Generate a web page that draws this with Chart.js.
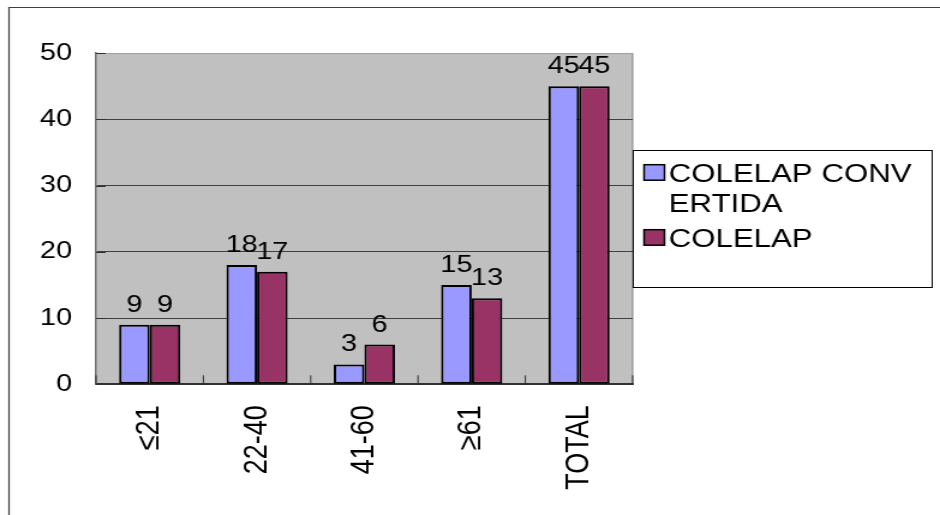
<!DOCTYPE html>
<html>
<head>
<meta charset="utf-8">
<script src="https://cdn.jsdelivr.net/npm/chart.js@4.4.1/dist/chart.umd.min.js"></script>
<style>
  html, body { margin: 0; padding: 0; background: #ffffff; overflow: hidden; }
  #c { display: block; width: 940px !important; height: 515px !important; }
</style>
</head>
<body>
<canvas id="c" width="783" height="515" style="width:940px;height:515px;display:block"></canvas>
<script>
const categories = ['≤21', '22-40', '41-60', '≥61', 'TOTAL'];
const convertida = [9, 18, 3, 15, 45];
const colelap = [9, 17, 6, 13, 45];
const seriesNames = ['COLELAP CONVERTIDA', 'COLELAP'];
const yTickValues = [0, 10, 20, 30, 40, 50];

const FONT = "'Liberation Sans', Arial, sans-serif";

const framePlugin = {
  id: 'frame',
  beforeDraw(chart) {
    const ctx = chart.ctx;
    const a = chart.chartArea;
    ctx.save();
    ctx.fillStyle = '#ffffff';
    ctx.fillRect(0, 0, chart.width, chart.height);
    ctx.strokeStyle = '#404040';
    ctx.lineWidth = 1.2;
    ctx.beginPath();
    ctx.moveTo(7.5, chart.height);
    ctx.lineTo(7.5, 7.5);
    ctx.lineTo(chart.width, 7.5);
    ctx.stroke();
    ctx.fillStyle = '#c0c0c0';
    ctx.fillRect(a.left, a.top, a.right - a.left, a.bottom - a.top);
    ctx.strokeStyle = '#808080';
    ctx.lineWidth = 1;
    ctx.beginPath();
    ctx.moveTo(a.right, a.top);
    ctx.lineTo(a.right, a.bottom);
    ctx.stroke();
    ctx.restore();
  }
};

const tickPlugin = {
  id: 'innerTicks',
  beforeDatasetsDraw(chart) {
    const ctx = chart.ctx;
    const xs = chart.scales.x, ys = chart.scales.y;
    ctx.save();
    ctx.strokeStyle = '#303030';
    ctx.lineWidth = 1;
    ctx.beginPath();
    yTickValues.forEach(v => {
      const y = Math.round(ys.getPixelForValue(v)) + 0.5;
      ctx.moveTo(xs.left, y);
      ctx.lineTo(xs.left + 8, y);
    });
    for (let i = 0; i <= categories.length; i++) {
      const x = xs.getPixelForValue(i - 0.5);
      ctx.moveTo(x, ys.bottom);
      ctx.lineTo(x, ys.bottom - 9);
    }
    ctx.stroke();
    ctx.restore();
  }
};

const labelPlugin = {
  id: 'valueLabels',
  afterDatasetsDraw(chart) {
    const ctx = chart.ctx;
    ctx.save();
    ctx.font = `24px ${FONT}`;
    ctx.fillStyle = '#000000';
    ctx.textAlign = 'center';
    ctx.textBaseline = 'alphabetic';
    chart.data.datasets.forEach((ds, di) => {
      const meta = chart.getDatasetMeta(di);
      meta.data.forEach((el, i) => {
        ctx.fillText(String(ds.data[i]), el.x, el.y - 13);
      });
    });
    ctx.restore();
  }
};

const legendPlugin = {
  id: 'boxLegend',
  afterDraw(chart) {
    const ctx = chart.ctx;
    const a = chart.chartArea;
    const box = { left: a.right + 0.5, top: 150.5, right: 776.5, bottom: 287.5 };
    ctx.save();
    ctx.fillStyle = '#ffffff';
    ctx.fillRect(box.left, box.top, box.right - box.left, box.bottom - box.top);
    ctx.strokeStyle = '#000000';
    ctx.lineWidth = 1;
    ctx.strokeRect(box.left, box.top, box.right - box.left, box.bottom - box.top);
    ctx.font = `26px ${FONT}`;
    ctx.fillStyle = '#000000';
    ctx.textAlign = 'left';
    ctx.textBaseline = 'alphabetic';
    const textX = box.left + 29.5;
    const maxW = box.right - 6 - textX;
    const swX = box.left + 9;
    let baseline = 181.7;
    chart.data.datasets.forEach((ds, di) => {
      const lines = [];
      let cur = '';
      for (const ch of ds.label) {
        const test = cur + ch;
        if (ctx.measureText(test).width > maxW && cur.length) {
          lines.push(cur);
          cur = ch === ' ' ? '' : ch;
        } else {
          cur = test;
        }
      }
      if (cur) lines.push(cur);
      ctx.fillStyle = ds.backgroundColor;
      ctx.fillRect(swX, baseline - 17, 17, 15.5);
      ctx.strokeStyle = '#000000';
      ctx.lineWidth = 1.5;
      ctx.strokeRect(swX, baseline - 17, 17, 15.5);
      ctx.fillStyle = '#000000';
      lines.forEach((ln, li) => {
        ctx.fillText(ln, textX, baseline + li * 30);
      });
      baseline += (lines.length - 1) * 30 + 35;
    });
    ctx.restore();
  }
};

new Chart(document.getElementById('c'), {
  type: 'bar',
  data: {
    labels: categories,
    datasets: [
      {
        label: seriesNames[0],
        data: convertida,
        backgroundColor: '#9999ff',
        borderColor: '#000000',
        borderWidth: 2,
        borderSkipped: false,
        categoryPercentage: 0.57,
        barPercentage: 1.0
      },
      {
        label: seriesNames[1],
        data: colelap,
        backgroundColor: '#993366',
        borderColor: '#000000',
        borderWidth: 2,
        borderSkipped: false,
        categoryPercentage: 0.57,
        barPercentage: 1.0
      }
    ]
  },
  options: {
    responsive: false,
    animation: false,
    devicePixelRatio: 1,
    layout: { padding: { left: 0, top: 53, right: 256, bottom: 0 } },
    plugins: {
      legend: { display: false },
      tooltip: { enabled: false },
      title: { display: false }
    },
    scales: {
      x: {
        grid: { display: false, drawTicks: false },
        border: { display: true, color: '#303030', width: 2 },
        ticks: {
          color: '#000000',
          font: { family: FONT, size: 27 },
          maxRotation: 90,
          minRotation: 90,
          padding: 21,
          autoSkip: false
        },
        afterFit(scale) { scale.height = 130.7; }
      },
      y: {
        min: 0,
        max: 50,
        afterBuildTicks(scale) { scale.ticks = yTickValues.map(v => ({ value: v })); },
        grid: {
          drawTicks: false,
          color: ctx => (ctx.tick && ctx.tick.value === 50 ? '#a0a0a0' : '#404040'),
          lineWidth: 1
        },
        border: { display: true, color: '#707070', width: 1.5 },
        ticks: {
          color: '#000000',
          font: { family: FONT, size: 24 },
          padding: 20
        },
        afterFit(scale) { scale.width = 80; }
      }
    }
  },
  plugins: [framePlugin, tickPlugin, labelPlugin, legendPlugin]
});
</script>
</body>
</html>
